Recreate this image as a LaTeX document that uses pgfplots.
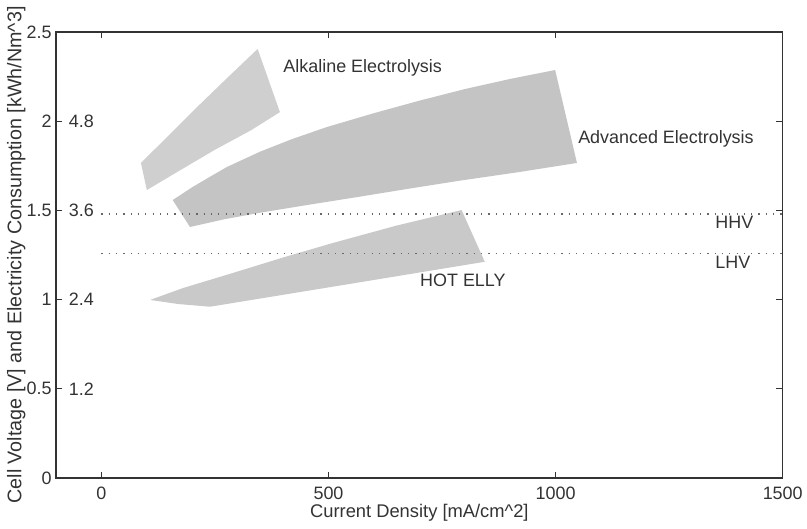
\documentclass[border=0pt]{standalone}
\usepackage{pgfplots}
\pgfplotsset{compat=1.18}
\usepackage{fontspec}
\setmainfont{Liberation Sans}
\definecolor{ink}{HTML}{333333}
\definecolor{alkfill}{HTML}{CFCFCF}
\definecolor{advfill}{HTML}{C4C4C4}
\definecolor{hotfill}{HTML}{C9C9C9}
\begin{document}
\fontsize{9}{11}\selectfont
\begin{tikzpicture}
\begin{axis}[
  at={(0,0)}, anchor=south west,
  scale only axis, width=363.35bp, height=223bp,
  xmin=-100, xmax=1500, ymin=0, ymax=2.5,
  xtick={0,500,1000,1500},
  ytick={0,0.5,1,1.5,2,2.5},
  tick align=inside, major tick length=3.2bp,
  /pgf/number format/assume math mode=true,
  /pgf/number format/1000 sep={},
  tick label style={font=\fontsize{9}{11}\selectfont, text=ink},
  xticklabel style={yshift=-1.5bp},
  yticklabel style={xshift=1bp},
  axis line style={ink, line width=0.6bp},
  every tick/.style={ink, line width=0.6bp},
  label style={text=ink},
  xlabel={Current Density [mA/cm\^{}2]},
  xlabel style={font=\fontsize{9.2}{11}\selectfont,
    at={(axis description cs:0.5,0)}, anchor=center, yshift=-17.5bp},
  ylabel={Cell Voltage [V] and Electricity Consumption [kWh/Nm\^{}3]},
  ylabel style={font=\fontsize{9.9}{12}\selectfont,
    at={(axis description cs:-0.0545,0.5)}, anchor=center},
  clip=false,
]
% operating regions of the three electrolysis technologies
\addplot[fill=alkfill, draw=none] coordinates {
  (87,1.766) (150,1.925) (215,2.09) (280,2.25) (344,2.405)
  (393,2.051) (330,1.95) (250,1.84) (170,1.72) (100,1.614)
} -- cycle;
\addplot[fill=advfill, draw=none] coordinates {
  (157,1.558) (200,1.630) (240,1.690) (276,1.743) (350,1.830)
  (420,1.900) (496,1.967) (600,2.045) (700,2.115) (800,2.180)
  (900,2.237) (999,2.287)
  (1047,1.766) (920,1.715) (790,1.667) (680,1.623) (569,1.577)
  (460,1.533) (349,1.487) (270,1.450) (195,1.407)
} -- cycle;
\addplot[fill=hotfill, draw=none] coordinates {
  (107,0.998) (180,1.065) (289,1.149) (400,1.236) (509,1.317)
  (650,1.415) (793,1.502)
  (844,1.212) (540,1.085) (239,0.960) (170,0.975)
} -- cycle;

% higher and lower heating value of hydrogen
\addplot[ink!75, line width=0.6bp, dash pattern=on 0.6bp off 3.05bp]
  coordinates {(0,1.48) (1500,1.48)};
\addplot[ink!75, line width=0.6bp, dash pattern=on 0.6bp off 3.05bp]
  coordinates {(0,1.26) (1500,1.26)};

\node[anchor=west, inner sep=0, text=ink] at (axis cs:400,2.30) {Alkaline Electrolysis};
\node[anchor=west, inner sep=0, text=ink] at (axis cs:1049,1.90) {Advanced Electrolysis};
\node[anchor=west, inner sep=0, text=ink] at (axis cs:701,1.11) {HOT ELLY};
\node[anchor=west, inner sep=0, text=ink] at (axis cs:1351,1.432) {HHV};
\node[anchor=west, inner sep=0, text=ink] at (axis cs:1351,1.208) {LHV};

% energy consumption scale in kWh/Nm^3
\node[anchor=west, inner sep=0, text=ink, xshift=6.2bp] at (axis cs:-100,2) {4.8};
\node[anchor=west, inner sep=0, text=ink, xshift=6.2bp] at (axis cs:-100,1.5) {3.6};
\node[anchor=west, inner sep=0, text=ink, xshift=6.2bp] at (axis cs:-100,1) {2.4};
\node[anchor=west, inner sep=0, text=ink, xshift=6.2bp] at (axis cs:-100,0.5) {1.2};
\end{axis}
\pgfresetboundingbox
\path[use as bounding box] (-28bp,-25.5bp) rectangle (375.5bp,239bp);
\end{tikzpicture}
\end{document}
